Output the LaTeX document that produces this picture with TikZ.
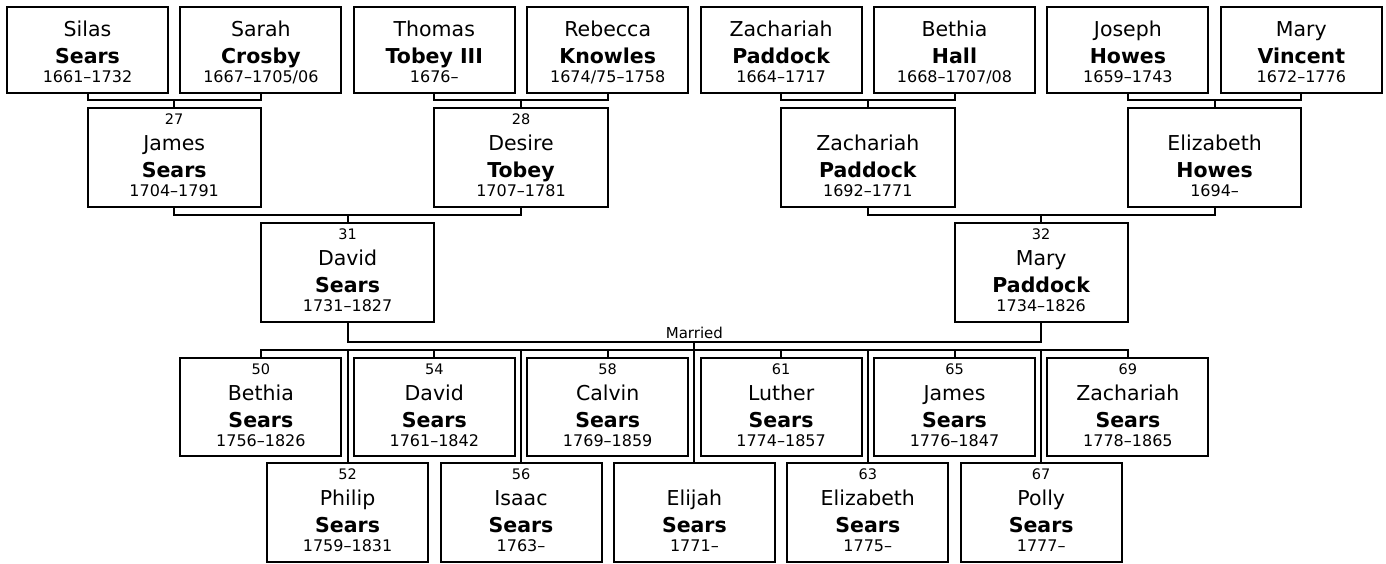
\documentclass[tikz,border=0pt]{standalone}
\usepackage{fontspec}
\setmainfont{DejaVu Sans}
\newcommand{\elder}[5]{%
  \node[pbox, minimum width=161, minimum height=86] (#1) at (#2,50) {};
  \node[given] (#1-g) at (#2,36) {#3};
  \node[family] (#1-s) at (#2,63) {#4};
  \node[years] (#1-y) at (#2,82) {#5};
}
\newcommand{\pers}[9]{%
  \node[pbox, minimum width=#4, minimum height=#5] (#1) at (#2,{#3+#5/2}) {};
  \node[idnum] (#1-n) at (#2,{#3+16.5}) {#6};
  \node[given] (#1-g) at (#2,{#3+42}) {#7};
  \node[family] (#1-s) at (#2,{#3+69}) {#8};
  \node[years] (#1-y) at (#2,{#3+88.5}) {#9};
}
\begin{document}
\begin{tikzpicture}[x=1pt, y=-1pt,
  pbox/.style={draw, line width=2pt, fill=white, outer sep=0pt, inner sep=0pt},
  given/.style={anchor=base, inner sep=0pt, font=\fontsize{20.5}{24}\selectfont},
  family/.style={anchor=base, inner sep=0pt, font=\fontsize{20.5}{24}\selectfont\bfseries},
  years/.style={anchor=base, inner sep=0pt, font=\fontsize{16}{19}\selectfont},
  idnum/.style={anchor=base, inner sep=0pt, font=\fontsize{14.5}{17}\selectfont},
  link/.style={line width=2pt}]
  \useasboundingbox (0,0) rectangle (1386,563);
  \elder{silas}{87.5}{Silas}{Sears}{1661--1732}
  \elder{sarah}{260.9}{Sarah}{Crosby}{1667--1705/06}
  \elder{thomas}{434.3}{Thomas}{Tobey III}{1676--}
  \elder{rebecca}{607.7}{Rebecca}{Knowles}{1674/75--1758}
  \elder{zachA}{781.1}{Zachariah}{Paddock}{1664--1717}
  \elder{bethiaH}{954.5}{Bethia}{Hall}{1668--1707/08}
  \elder{joseph}{1127.9}{Joseph}{Howes}{1659--1743}
  \elder{maryV}{1301.3}{Mary}{Vincent}{1672--1776}
  \pers{james}{174.2}{108}{173.4}{99}{27}{James}{Sears}{1704--1791}
  \pers{desire}{521}{108}{173.4}{99}{28}{Desire}{Tobey}{1707--1781}
  \pers{zachB}{867.8}{108}{173.4}{99}{}{Zachariah}{Paddock}{1692--1771}
  \pers{elizH}{1214.6}{108}{173.4}{99}{}{Elizabeth}{Howes}{1694--}
  \pers{david}{347.6}{223}{173.4}{99}{31}{David}{Sears}{1731--1827}
  \pers{mary}{1041.2}{223}{173.4}{99}{32}{Mary}{Paddock}{1734--1826}
  \pers{bethia}{260.9}{358}{161}{98}{50}{Bethia}{Sears}{1756--1826}
  \pers{davidS}{434.3}{358}{161}{98}{54}{David}{Sears}{1761--1842}
  \pers{calvin}{607.7}{358}{161}{98}{58}{Calvin}{Sears}{1769--1859}
  \pers{luther}{781.1}{358}{161}{98}{61}{Luther}{Sears}{1774--1857}
  \pers{jamesS}{954.5}{358}{161}{98}{65}{James}{Sears}{1776--1847}
  \pers{zachS}{1127.9}{358}{161}{98}{69}{Zachariah}{Sears}{1778--1865}
  \pers{philip}{347.6}{463}{161}{99}{52}{Philip}{Sears}{1759--1831}
  \pers{isaac}{521}{463}{161}{99}{56}{Isaac}{Sears}{1763--}
  \pers{elijah}{694.4}{463}{161}{99}{}{Elijah}{Sears}{1771--}
  \pers{elizS}{867.8}{463}{161}{99}{63}{Elizabeth}{Sears}{1775--}
  \pers{polly}{1041.2}{463}{161}{99}{67}{Polly}{Sears}{1777--}
  \draw[link] (silas.south) -- ++(0,7) -| (sarah.south);
  \draw[link] (thomas.south) -- ++(0,7) -| (rebecca.south);
  \draw[link] (zachA.south) -- ++(0,7) -| (bethiaH.south);
  \draw[link] (joseph.south) -- ++(0,7) -| (maryV.south);
  \draw[link] (james.north) -- ++(0,-8);
  \draw[link] (desire.north) -- ++(0,-8);
  \draw[link] (zachB.north) -- ++(0,-8);
  \draw[link] (elizH.north) -- ++(0,-8);
  \draw[link] (james.south) -- ++(0,8) -| (desire.south);
  \draw[link] (zachB.south) -- ++(0,8) -| (elizH.south);
  \draw[link] (david.north) -- ++(0,-8);
  \draw[link] (mary.north) -- ++(0,-8);
  \draw[link] (david.south) -- ++(0,20) -| (mary.south);
  \coordinate (wed) at (694.4,342);
  \node[idnum, font=\fontsize{15}{18}\selectfont] (wedlabel) at (694.4,338) {Married};
  \draw[link] (wed) -- (elijah.north);
  \draw[link] (bethia.north) -- ++(0,-8) -| (zachS.north);
  \draw[link] (davidS.north) -- ++(0,-8);
  \draw[link] (calvin.north) -- ++(0,-8);
  \draw[link] (luther.north) -- ++(0,-8);
  \draw[link] (jamesS.north) -- ++(0,-8);
  \draw[link] (philip.north) -- ++(0,-113);
  \draw[link] (isaac.north) -- ++(0,-113);
  \draw[link] (elizS.north) -- ++(0,-113);
  \draw[link] (polly.north) -- ++(0,-113);
\end{tikzpicture}
\end{document}
